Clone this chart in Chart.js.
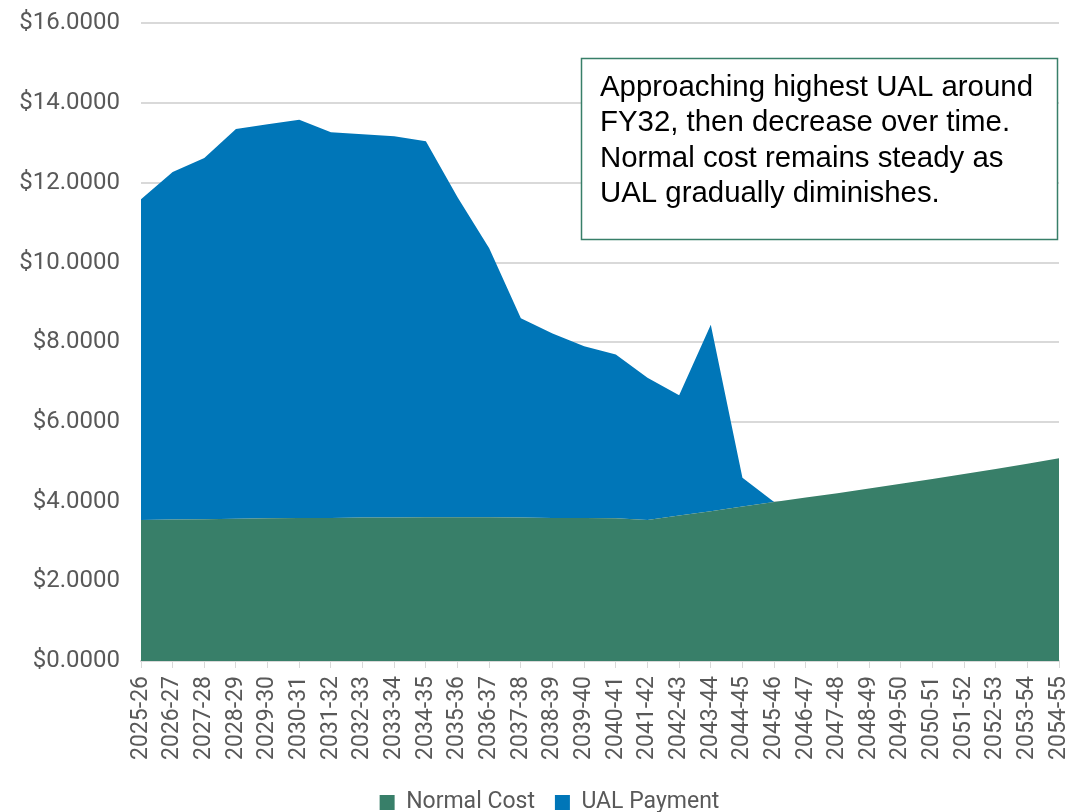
<!DOCTYPE html>
<html>
<head>
<meta charset="utf-8">
<script src="https://cdn.jsdelivr.net/npm/chart.js@4"></script>
<style>
  html, body { margin: 0; padding: 0; background: #fff; overflow: hidden; }
  #wrap { position: absolute; left: 0; top: -12px; width: 1087px; height: 836px; }
</style>
</head>
<body>
<div id="wrap"><canvas id="chart1"></canvas></div>
<script>
// fiscal years
var years = ['2025-26', '2026-27', '2027-28', '2028-29', '2029-30', '2030-31', '2031-32', '2032-33',
    '2033-34', '2034-35', '2035-36', '2036-37', '2037-38', '2038-39', '2039-40', '2040-41',
    '2041-42', '2042-43', '2043-44', '2044-45', '2045-46', '2046-47', '2047-48', '2048-49',
    '2049-50', '2050-51', '2051-52', '2052-53', '2053-54', '2054-55'];

var normalCost = [3.54, 3.55, 3.56, 3.57, 3.58, 3.59, 3.59, 3.60, 3.60, 3.61, 3.61, 3.61, 3.60, 3.59, 3.59,
    3.58, 3.54, 3.65, 3.76, 3.88, 3.99, 4.10, 4.21, 4.33, 4.45, 4.57, 4.69, 4.82, 4.95, 5.09];

var ualPayment = [8.05, 8.72, 9.06, 9.78, 9.89, 9.99, 9.68, 9.62, 9.57, 9.43, 8.03, 6.75, 5.00, 4.63, 4.31,
    4.11, 3.57, 3.02, 4.68, 0.72, 0, 0, 0, 0, 0, 0, 0, 0, 0, 0];

var yTicks = [0, 2, 4, 6, 8, 10, 12, 14, 16];

var noteLines = ['Approaching highest UAL around', 'FY32, then decrease over time.',
    'Normal cost remains steady as', 'UAL gradually diminishes.'];

var green = '#387F69';
var blue = '#0076B8';

// text box in the upper right (canvas is shifted up 12px)
var noteBox = {
    id: 'noteBox',
    afterUpdate: function (chart) {
        // center the legend where the original has it
        var shift = 549.5 - (chart.legend.left + chart.legend.right) / 2;
        chart.legend.left += shift;
        chart.legend.right += shift;
    },
    afterDraw: function (chart) {
        var c = chart.ctx;
        c.save();
        c.translate(0, 12);
        c.fillStyle = '#ffffff';
        c.fillRect(581, 58, 476, 181);
        c.strokeStyle = green;
        c.lineWidth = 1.5;
        c.strokeRect(581.5, 58.5, 476, 181);
        c.fillStyle = '#000000';
        c.font = '29.4px "Liberation Sans", Arial, sans-serif';
        c.textBaseline = 'middle';
        for (var i = 0; i < noteLines.length; i++) {
            c.fillText(noteLines[i], 600, 88 + i * 35.3);
        }
        c.restore();
    }
};

var ctx1 = document.getElementById('chart1').getContext('2d');
var chart1 = new Chart(ctx1, {
    type: 'line',
    data: {
        labels: years,
        datasets: [{
            label: 'Normal Cost',
            data: normalCost,
            backgroundColor: green,
            borderColor: green,
            borderWidth: 0,
            pointRadius: 0,
            fill: 'origin'
        }, {
            label: 'UAL Payment',
            data: ualPayment,
            backgroundColor: blue,
            borderColor: blue,
            borderWidth: 0,
            pointRadius: 0,
            fill: '-1'
        }]
    },
    options: {
        responsive: true,
        maintainAspectRatio: false,
        animation: false,
        layout: { padding: { top: 0, right: 28, left: 0, bottom: 0 } },
        plugins: {
            legend: {
                position: 'bottom',
                labels: {
                    boxWidth: 15,
                    boxHeight: 15,
                    padding: 20,
                    color: '#595959',
                    font: { family: 'Roboto', size: 23 }
                }
            },
            tooltip: { enabled: false }
        },
        scales: {
            x: {
                offset: false,
                grid: { drawOnChartArea: false, color: '#d9d9d9', tickLength: 7 },
                border: { color: '#d9d9d9', width: 2 },
                ticks: {
                    autoSkip: false,
                    minRotation: 90,
                    maxRotation: 90,
                    padding: 8,
                    color: '#595959',
                    font: { family: 'Roboto', size: 23 }
                },
                afterFit: function (axis) {
                    axis.height = 110;
                    axis.paddingLeft = 0;
                    axis.paddingRight = 0;
                }
            },
            y: {
                stacked: true,
                min: 0,
                max: 16,
                afterBuildTicks: function (axis) {
                    axis.ticks = yTicks.map(function (v) { return { value: v }; });
                },
                grid: { color: '#d9d9d9', lineWidth: 2, drawTicks: false },
                border: { display: false },
                ticks: {
                    padding: 21,
                    color: '#595959',
                    font: { family: 'Roboto', size: 24 },
                    callback: function (v) { return '$' + v.toFixed(4); }
                },
                afterFit: function (axis) { axis.width = 141; }
            }
        }
    },
    plugins: [noteBox]
});
</script>
</body>
</html>
